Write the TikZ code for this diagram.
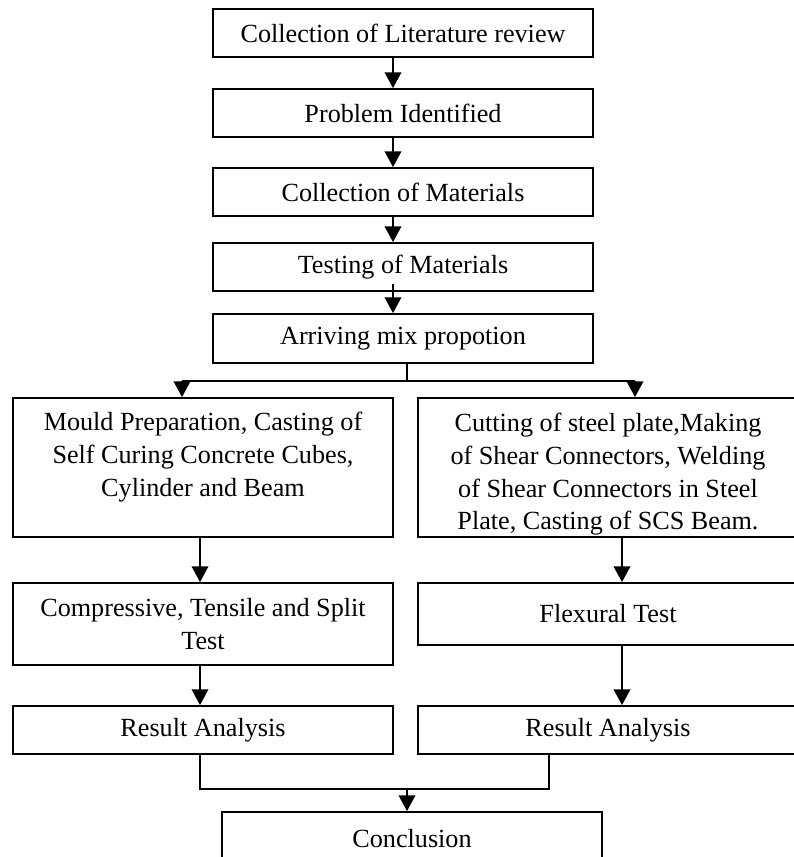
\documentclass[tikz,border=0pt]{standalone}
\usepackage{fontspec}
\setmainfont{Liberation Serif}
\usetikzlibrary{arrows.meta, calc}

\tikzset{
  stepbox/.style={draw, line width=1pt, inner sep=0pt, align=center,
    minimum width=7.6cm, minimum height=0.96cm,
    font=\fontsize{14.9}{18.7}\selectfont},
  flow/.style={-{Triangle[width=9.4pt,length=9pt]}, line width=1.2pt},
  joint/.style={line width=1.2pt}
}

\begin{document}
\begin{tikzpicture}[x=0.02cm, y=-0.02cm]
                \useasboundingbox (0,0) rectangle (793,857);
                % Nodes
                \node[stepbox] (lit) at (403,33) {Collection of Literature review};
                \node[stepbox] (prob) at (403,113) {Problem Identified};
                \node[stepbox] (coll) at (403,192) {Collection of Materials};
                \node[stepbox] (test) at (403,267) {Testing of Materials};
                \node[stepbox, minimum height=0.98cm] (mix) at (403,338.5) {Arriving mix propotion};
                \node[stepbox, minimum height=2.78cm] (mould) at (203,467.5) {Mould Preparation, Casting of\\Self Curing Concrete Cubes,\\Cylinder and Beam\rule[-0.52cm]{0pt}{0pt}};
                \node[stepbox, minimum height=2.78cm] (steel) at (608,467.5) {\rule{0pt}{0.64cm}Cutting of steel plate,Making\\of Shear Connectors, Welding\\of Shear Connectors in Steel\\Plate, Casting of SCS Beam.};
                \node[stepbox, minimum height=1.64cm] (comp) at (203,624) {Compressive, Tensile and Split\\Test};
                \node[stepbox, minimum height=1.24cm] (flex) at (608,614) {Flexural Test};
                \node[stepbox] (resL) at (203,730) {Result Analysis};
                \node[stepbox] (resR) at (608,730) {Result Analysis};
                \node[stepbox, minimum height=1.08cm] (concl) at (412,839) {Conclusion};

                % Junctions
                \coordinate (ax) at (393,0);
                \coordinate (br) at (407,381);
                \coordinate (brL) at (182,381);
                \coordinate (brR) at (635,381);
                \coordinate (lx) at (200,0);
                \coordinate (rx) at (622,0);
                \coordinate (mg) at (407,789);
                \coordinate (mr) at (549,789);

                % Connections
                \draw[flow] (lit.south -| ax) -- (prob.north -| ax);
                \draw[flow] (prob.south -| ax) -- (coll.north -| ax);
                \draw[flow] (coll.south -| ax) -- (test.north -| ax);
                \draw[flow] ($(test.south -| ax)+(0,-8)$) -- (mix.north -| ax);
                \draw[joint] (mix.south -| br) -- (br);
                \draw[joint] (brL) -- (brR);
                \draw[flow] (brL) -- (mould.north -| brL);
                \draw[flow] (brR) -- (steel.north -| brR);
                \draw[flow] (mould.south -| lx) -- (comp.north -| lx);
                \draw[flow] (steel.south -| rx) -- (flex.north -| rx);
                \draw[flow] (comp.south -| lx) -- (resL.north -| lx);
                \draw[flow] (flex.south -| rx) -- (resR.north -| rx);
                \draw[joint] (resL.south -| lx) |- (mr) -- (resR.south -| mr);
                \draw[flow] (mg) -- (concl.north -| mg);
            \end{tikzpicture}
\end{document}
